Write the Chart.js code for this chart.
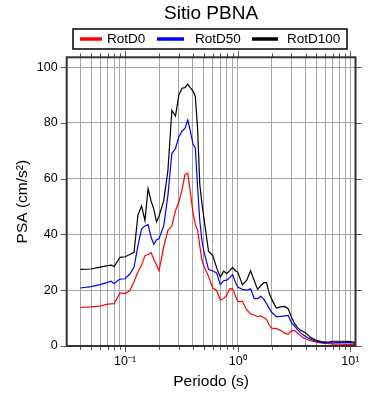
<!DOCTYPE html>
<html>
<head>
<meta charset="utf-8">
<script src="https://cdn.jsdelivr.net/npm/chart.js@4.4.1/dist/chart.umd.min.js"></script>
<style>
  html, body { margin: 0; padding: 0; background: #fff; }
</style>
</head>
<body>
<canvas id="psaChart" width="390" height="400"></canvas>
<script>
// Periodos (s)
const periods = [
  0.04, 0.05, 0.06, 0.07, 0.075, 0.08, 0.09, 0.1, 0.11, 0.12,
  0.13, 0.14, 0.15, 0.16, 0.17, 0.18, 0.19, 0.2, 0.22, 0.24,
  0.26, 0.28, 0.3, 0.32, 0.34, 0.36, 0.38, 0.4, 0.42, 0.44,
  0.46, 0.48, 0.5, 0.55, 0.6, 0.65, 0.7, 0.75, 0.8, 0.85,
  0.9, 0.95, 1.0, 1.1, 1.2, 1.3, 1.4, 1.5, 1.6, 1.7,
  1.8, 1.9, 2.0, 2.2, 2.4, 2.6, 2.8, 3.0, 3.2, 3.4,
  3.6, 3.8, 4.0, 4.5, 5.0, 5.5, 6.0, 6.5, 7.0, 7.5,
  8.0, 9.0, 10.0, 11.0
];

// PSA (cm/s2)
const rotD0 = [
  13.8, 14.0, 14.3, 15.0, 15.1, 15.2, 19.0, 18.8, 19.8, 23.0,
  26.5, 29.0, 32.4, 32.8, 33.5, 31.0, 29.0, 27.0, 35.5, 41.5,
  43.0, 48.5, 51.6, 56.0, 61.5, 62.0, 55.0, 48.0, 43.5, 41.5,
  36.0, 31.0, 28.6, 25.0, 20.8, 19.9, 16.5, 17.0, 18.3, 20.5,
  20.6, 18.2, 16.0, 16.0, 13.0, 11.5, 11.1, 10.5, 10.8, 10.2,
  9.5, 7.6, 6.4, 6.2, 5.6, 4.6, 4.2, 5.5, 5.5, 4.6,
  3.8, 3.0, 2.6, 1.8, 1.4, 1.1, 0.9, 0.8, 0.7, 0.7,
  0.7, 0.6, 0.6, 0.5
];
const rotD50 = [
  20.8, 21.3, 22.0, 22.8, 23.2, 22.4, 24.0, 24.1, 25.8, 28.2,
  36.0, 42.0, 43.0, 43.5, 39.0, 36.5, 38.0, 38.5, 43.0, 54.0,
  69.0, 70.8, 75.0, 77.0, 78.0, 81.0, 77.0, 72.5, 71.0, 57.0,
  45.0, 38.0, 34.0, 27.5, 26.9, 26.2, 22.0, 23.4, 23.6, 24.5,
  25.6, 23.0, 21.1, 20.3, 20.0, 20.5, 17.0, 17.0, 17.8, 16.8,
  15.2, 13.5, 12.1, 10.5, 10.6, 10.8, 11.0, 8.4, 7.0, 5.8,
  4.8, 4.0, 3.4, 2.3, 1.7, 1.3, 1.1, 1.1, 1.1, 1.2,
  1.2, 1.3, 1.2, 0.9
];
const rotD100 = [
  27.5, 27.6, 28.3, 28.8, 29.0, 28.5, 31.8, 32.0, 32.8, 33.6,
  47.0, 50.2, 45.0, 56.4, 52.0, 49.0, 44.5, 46.5, 52.0, 63.0,
  84.5, 82.4, 90.0, 92.4, 92.6, 93.9, 92.5, 91.5, 89.5, 78.0,
  58.0, 51.4, 46.0, 34.0, 32.4, 28.0, 24.7, 26.8, 26.0, 27.0,
  28.2, 27.0, 26.5, 22.0, 23.5, 27.0, 23.5, 20.3, 21.6, 22.7,
  22.7, 19.0, 16.8, 13.6, 14.0, 14.2, 13.4, 10.3, 8.0, 6.6,
  5.7, 5.2, 4.7, 2.9, 2.0, 1.6, 1.4, 1.5, 1.7, 1.7,
  1.7, 1.7, 1.6, 1.3
];

const seriesNames = ['RotD0', 'RotD50', 'RotD100'];
const seriesColors = ['#ff0000', '#0000ff', '#000000'];

const yTicks = [0, 20, 40, 60, 80, 100];
const xMajorTicks = [0.1, 1, 10];
const xMajorLabels = ['10⁻¹', '10⁰', '10¹'];

const xMin = 0.0303, xMax = 11.1;
const yMin = 0, yMax = 103.5;

const FONT = "'Liberation Sans', Helvetica, Arial, sans-serif";

// todas las marcas del eje log (1..9 x 10^n)
const xAllTicks = [];
for (let e = -2; e <= 1; e++) {
  for (let m = 1; m <= 9; m++) {
    const v = m * Math.pow(10, e);
    if (v >= xMin && v <= xMax) xAllTicks.push(v);
  }
}
function isMajor(v) {
  const l = Math.log10(v);
  return Math.abs(l - Math.round(l)) < 1e-9;
}

// marco, marcas exteriores y leyenda con recuadro
const frameAndLegend = {
  id: 'frameAndLegend',
  afterDraw(chart) {
    const { ctx, chartArea: a, scales: { x, y } } = chart;
    ctx.save();

    // marcas hacia afuera
    ctx.strokeStyle = '#555';
    ctx.lineWidth = 1;
    ctx.beginPath();
    xAllTicks.forEach(v => {
      const px = Math.round(x.getPixelForValue(v)) + 0.5;
      const len = isMajor(v) ? 6 : 4;
      ctx.moveTo(px, a.bottom); ctx.lineTo(px, a.bottom + len);
      ctx.moveTo(px, a.top); ctx.lineTo(px, a.top - len);
    });
    yTicks.forEach(v => {
      const py = Math.round(y.getPixelForValue(v)) + 0.5;
      ctx.moveTo(a.left - 6, py); ctx.lineTo(a.left, py);
      ctx.moveTo(a.right, py); ctx.lineTo(a.right + 6, py);
    });
    ctx.stroke();

    // marco
    ctx.strokeStyle = '#333';
    ctx.lineWidth = 2;
    ctx.strokeRect(a.left, a.top, a.right - a.left, a.bottom - a.top);

    // leyenda
    const box = { left: 73, top: 29, right: 347, bottom: 49 };
    const lineStart = [80, 157, 252];
    const lineLen = [22, 27, 26];
    const textX = [107, 195, 287];
    const cy = (box.top + box.bottom) / 2;
    ctx.fillStyle = '#fff';
    ctx.fillRect(box.left, box.top, box.right - box.left, box.bottom - box.top);
    ctx.strokeStyle = '#000';
    ctx.lineWidth = 1.5;
    ctx.strokeRect(box.left, box.top, box.right - box.left, box.bottom - box.top);
    ctx.font = '13.5px ' + FONT;
    ctx.textBaseline = 'middle';
    ctx.textAlign = 'left';
    chart.data.datasets.forEach((ds, i) => {
      ctx.strokeStyle = ds.borderColor;
      ctx.lineWidth = 3.5;
      ctx.beginPath();
      ctx.moveTo(lineStart[i], cy);
      ctx.lineTo(lineStart[i] + lineLen[i], cy);
      ctx.stroke();
      ctx.fillStyle = '#000';
      ctx.fillText(ds.label, textX[i], cy + 0.5);
    });
    ctx.restore();
  }
};

const ctx = document.getElementById('psaChart');

new Chart(ctx, {
  type: 'line',
  data: {
    datasets: [rotD0, rotD50, rotD100].map((vals, i) => ({
      label: seriesNames[i],
      data: periods.map((p, k) => ({ x: p, y: vals[k] })),
      borderColor: seriesColors[i],
      backgroundColor: seriesColors[i],
      borderWidth: 1.2,
      pointRadius: 0,
      tension: 0,
      fill: false,
      order: 2 - i
    }))
  },
  options: {
    responsive: false,
    animation: false,
    layout: { padding: { left: 0, right: 34.5, top: 0, bottom: 0 } },
    plugins: {
      legend: { display: false },
      tooltip: { enabled: false },
      title: {
        display: true,
        text: 'Sitio PBNA',
        fullSize: false,
        color: '#000',
        font: { family: FONT, size: 19, weight: 'normal' },
        padding: { top: 2, bottom: 32.5 }
      }
    },
    scales: {
      x: {
        type: 'logarithmic',
        min: xMin,
        max: xMax,
        afterBuildTicks(scale) {
          scale.ticks = xAllTicks.map(v => ({ value: v }));
        },
        afterFit(scale) { scale.height = 54; },
        ticks: {
          autoSkip: false,
          maxRotation: 0,
          padding: 8,
          color: '#000',
          font: { family: FONT, size: 12.5 },
          callback(value) {
            const idx = xMajorTicks.findIndex(t => Math.abs(t - value) / t < 1e-6);
            return idx >= 0 ? xMajorLabels[idx] : '';
          }
        },
        grid: { color: '#a6a6a6', lineWidth: 1, drawTicks: false },
        border: { display: false },
        title: {
          display: true,
          text: 'Periodo (s)',
          color: '#000',
          font: { family: FONT, size: 15.5 },
          padding: { top: 0, bottom: 9 }
        }
      },
      y: {
        min: yMin,
        max: yMax,
        afterBuildTicks(scale) {
          scale.ticks = yTicks.map(v => ({ value: v }));
        },
        afterFit(scale) { scale.width = 66.7; },
        ticks: {
          padding: 9,
          color: '#000',
          font: { family: FONT, size: 12.5 }
        },
        grid: { color: '#a6a6a6', lineWidth: 1, drawTicks: false },
        border: { display: false },
        title: {
          display: true,
          text: 'PSA (cm/s²)',
          color: '#000',
          font: { family: FONT, size: 15.5 },
          padding: { top: 13, bottom: 0 }
        }
      }
    }
  },
  plugins: [frameAndLegend]
});
</script>
</body>
</html>
